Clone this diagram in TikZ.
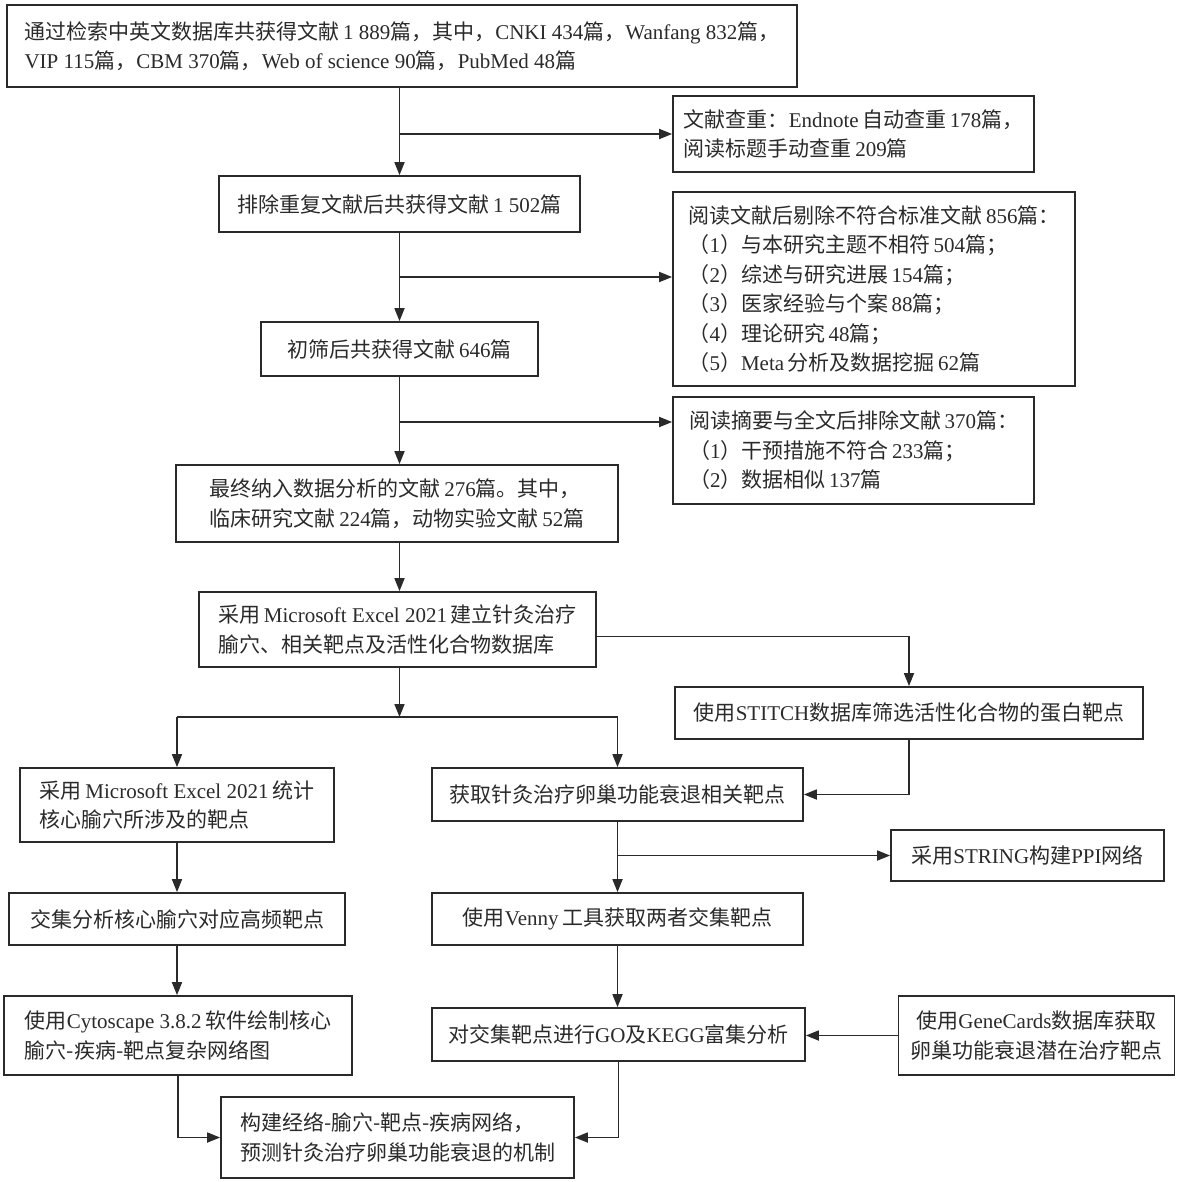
\documentclass[tikz,border=0pt]{standalone}
\usepackage{fontspec}
\setmainfont{Noto Sans CJK SC}
\newfontfamily\latfont{Liberation Serif}
\newcommand\lat[1]{{\latfont #1}}
\usetikzlibrary{arrows.meta}
\definecolor{ink}{HTML}{2A2A2A}
\begin{document}
\begin{tikzpicture}[x=1pt,y=-1pt,
  font=\fontsize{21}{29.5}\selectfont,
  box/.style={draw=ink, line width=1.7pt, rectangle, inner sep=0pt, text=ink, align=left},
  arr/.style={draw=ink, line width=1.7pt, -{Triangle[length=13pt,width=10pt]}},
  ln/.style={draw=ink, line width=1.7pt}]
\useasboundingbox (0,0) rectangle (1176,1182);

\node[box, minimum width=790pt, minimum height=82pt] (A) at (402,46)
  {通过检索中英文数据库共获得文献\,\lat{1 889}篇，其中，\lat{CNKI 434}篇，\lat{Wanfang 832}篇，\\\lat{VIP 115}篇，\lat{CBM 370}篇，\lat{Web of science 90}篇，\lat{PubMed 48}篇};
\node[box, minimum width=361pt, minimum height=76pt] (C) at (853.5,134)
  {文献查重：\lat{Endnote}\,自动查重\,\lat{178}篇，\\阅读标题手动查重\,\lat{209}篇};
\node[box, minimum width=361pt, minimum height=56pt] (B) at (399.5,204)
  {排除重复文献后共获得文献\,\lat{1 502}篇};
\node[box, minimum width=402pt, minimum height=194pt] (E) at (874,289)
  {阅读文献后剔除不符合标准文献\,\lat{856}篇：\\（\lat{1}）与本研究主题不相符\,\lat{504}篇；\\（\lat{2}）综述与研究进展\,\lat{154}篇；\\（\lat{3}）医家经验与个案\,\lat{88}篇；\\（\lat{4}）理论研究\,\lat{48}篇；\\（\lat{5}）\lat{Meta}\,分析及数据挖掘\,\lat{62}篇};
\node[box, minimum width=277pt, minimum height=54pt] (D) at (399.5,349)
  {初筛后共获得文献\,\lat{646}篇};
\node[box, minimum width=361pt, minimum height=107pt] (G) at (853.5,450.5)
  {阅读摘要与全文后排除文献\,\lat{370}篇：\\（\lat{1}）干预措施不符合\,\lat{233}篇；\\（\lat{2}）数据相似\,\lat{137}篇};
\node[box, minimum width=442pt, minimum height=77pt] (F) at (397,503.5)
  {最终纳入数据分析的文献\,\lat{276}篇。其中，\\临床研究文献\,\lat{224}篇，动物实验文献\,\lat{52}篇};
\node[box, minimum width=397pt, minimum height=75pt] (H) at (397.5,629.5)
  {采用\,\lat{Microsoft Excel 2021}\,建立针灸治疗\\腧穴、相关靶点及活性化合物数据库};
\node[box, minimum width=468pt, minimum height=52pt] (I) at (909,713)
  {使用\lat{STITCH}数据库筛选活性化合物的蛋白靶点};
\node[box, minimum width=314pt, minimum height=74pt] (J) at (177,805)
  {采用\,\lat{Microsoft Excel 2021}\,统计\\核心腧穴所涉及的靶点};
\node[box, minimum width=371pt, minimum height=53pt] (K) at (617.5,794.5)
  {获取针灸治疗卵巢功能衰退相关靶点};
\node[box, minimum width=273pt, minimum height=51pt] (M) at (1027.5,855.5)
  {采用\lat{STRING}构建\lat{PPI}网络};
\node[box, minimum width=336pt, minimum height=52pt] (N) at (177,919)
  {交集分析核心腧穴对应高频靶点};
\node[box, minimum width=371pt, minimum height=52pt] (L) at (617.5,919)
  {使用\lat{Venny}\,工具获取两者交集靶点};
\node[box, minimum width=348pt, minimum height=79pt] (O) at (178,1035.5)
  {使用\lat{Cytoscape 3.8.2}\,软件绘制核心\\腧穴-疾病-靶点复杂网络图};
\node[box, minimum width=373pt, minimum height=53pt] (P) at (618.5,1034.5)
  {对交集靶点进行\lat{GO}及\lat{KEGG}富集分析};
\node[box, align=center, minimum width=276pt, minimum height=79pt] (Q) at (1036.5,1035.5)
  {使用\lat{GeneCards}数据库获取\\卵巢功能衰退潜在治疗靶点};
\node[box, minimum width=353pt, minimum height=81pt] (R) at (397.5,1137.5)
  {构建经络-腧穴-靶点-疾病网络，\\预测针灸治疗卵巢功能衰退的机制};

% connectors
\draw[arr] (A.south -| B.north) -- (B.north);
\draw[arr] (B.north |- C.west) -- (C.west);
\coordinate (e1) at (399.5,277);
\draw[arr] (B.south) -- (B.south |- D.north);
\draw[arr] (e1) -- (e1 -| E.west);
\coordinate (g1) at (399.5,422);
\draw[arr] (D.south) -- (D.south |- F.north);
\draw[arr] (g1) -- (g1 -| G.west);
\draw[arr] (D.south |- F.south) -- (D.south |- H.north);
\draw[arr] ([yshift=-7pt]H.east) -| (I.north);
\coordinate (jn) at (399.5,717);
\draw[arr] (D.south |- H.south) -- (jn);
\draw[ln] (jn -| J.north) -- (jn -| K.north);
\draw[arr] (jn -| J.north) -- (J.north);
\draw[arr] (jn -| K.north) -- (K.north);
\draw[arr] (I.south) |- (K.east);
\draw[arr] (K.south) -- (L.north);
\draw[arr] (K.south |- M.west) -- (M.west);
\draw[arr] (J.south) -- (N.north);
\draw[arr] (N.south) -- (N.south |- O.north);
\draw[arr] (L.south) -- (L.south |- P.north);
\draw[arr] (Q.west) -- (Q.west -| P.east);
\draw[arr] (O.south) |- (R.west);
\draw[arr] (P.south) |- (R.east);
\end{tikzpicture}
\end{document}
